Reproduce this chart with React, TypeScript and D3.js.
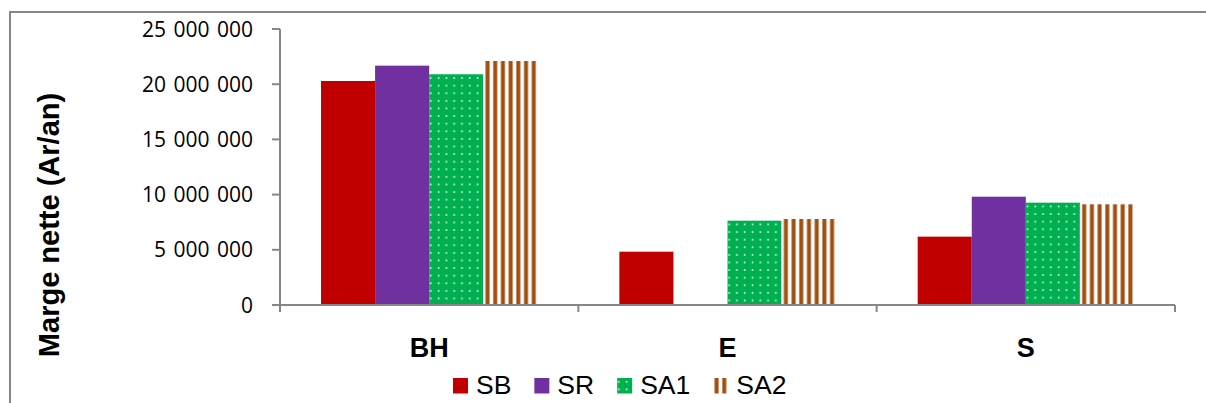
import React, { useEffect, useRef } from "react";
import * as d3 from "d3";

const categories = ["BH", "E", "S"];
const seriesNames = ["SB", "SR", "SA1", "SA2"];
const sbValues = [20290000, 4830000, 6190000];
const srValues: (number | null)[] = [21680000, null, 9810000];
const sa1Values = [20900000, 7640000, 9270000];
const sa2Values = [22100000, 7790000, 9120000];
const yTicks = [0, 5000000, 10000000, 15000000, 20000000, 25000000];
const yTitle = "Marge nette (Ar/an)";

const W = 1206;
const H = 403;

export default function App() {
  const ref = useRef<SVGSVGElement | null>(null);

  useEffect(() => {
    const svg = d3.select(ref.current);
    svg.selectAll("*").remove();

    const seriesValues = [sbValues, srValues, sa1Values, sa2Values];
    const colors: Record<string, string> = {
      SB: "#C00000",
      SR: "#7030A0",
      SA1: "#00B050",
      SA2: "#A14E0E",
    };
    const gray = "#878787";

    const x0 = d3.scaleBand<string>().domain(categories).range([280, 1175]).padding(0);
    const bw = x0.bandwidth();
    const x1 = d3
      .scaleBand<string>()
      .domain(seriesNames)
      .range([bw * 0.1375, bw * 0.8625])
      .padding(0);
    const y = d3.scaleLinear().domain([0, 25000000]).range([305, 29]);

    const locale = d3.formatLocale({
      decimal: ",",
      thousands: " ",
      grouping: [3],
      currency: ["", ""],
    });
    const fmt = locale.format(",");

    const defs = svg.append("defs");

    const makeDots = (id: string, ox: number, oy: number) => {
      const p = defs
        .append("pattern")
        .attr("id", id)
        .attr("patternUnits", "userSpaceOnUse")
        .attr("x", ox)
        .attr("y", oy)
        .attr("width", 7.8)
        .attr("height", 7.6);
      p.append("rect").attr("width", 7.8).attr("height", 7.6).attr("fill", colors.SA1);
      p.append("circle").attr("cx", 1.6).attr("cy", 3.8).attr("r", 0.95).attr("fill", "#d8f5e3");
    };
    const makeStripes = (id: string, ox: number) => {
      const p = defs
        .append("pattern")
        .attr("id", id)
        .attr("patternUnits", "userSpaceOnUse")
        .attr("x", ox)
        .attr("y", 0)
        .attr("width", 7.7)
        .attr("height", 10);
      p.append("rect").attr("width", 7.7).attr("height", 10).attr("fill", "#ffffff");
      p.append("rect").attr("x", 2.3).attr("width", 4).attr("height", 10).attr("fill", colors.SA2);
    };

    // Border
    svg
      .append("path")
      .attr("d", `M10,${H} L10,12 L${W},12`)
      .attr("fill", "none")
      .attr("stroke", gray)
      .attr("stroke-width", 2);

    // Bars
    const barsG = svg.append("g");
    categories.forEach((cat, ci) => {
      seriesNames.forEach((s, si) => {
        const v = seriesValues[si][ci];
        if (v == null || v === 0) return;
        const bx = (x0(cat) as number) + (x1(s) as number);
        const by = y(v);
        let fill = colors[s];
        if (s === "SA1") {
          const id = `dots-${ci}`;
          makeDots(id, bx, by);
          fill = `url(#${id})`;
        } else if (s === "SA2") {
          const id = `stripes-${ci}`;
          makeStripes(id, bx);
          fill = `url(#${id})`;
        }
        barsG
          .append("rect")
          .attr("x", bx)
          .attr("y", by)
          .attr("width", x1.bandwidth())
          .attr("height", y(0) - by)
          .attr("fill", fill);
      });
    });

    // Y axis
    const yAxisG = svg.append("g");
    yAxisG
      .append("line")
      .attr("x1", 280)
      .attr("x2", 280)
      .attr("y1", y(25000000))
      .attr("y2", 312)
      .attr("stroke", gray)
      .attr("stroke-width", 2);
    yTicks.forEach((t) => {
      yAxisG
        .append("line")
        .attr("x1", 272)
        .attr("x2", 280)
        .attr("y1", y(t))
        .attr("y2", y(t))
        .attr("stroke", gray)
        .attr("stroke-width", 2);
      yAxisG
        .append("text")
        .attr("x", 253)
        .attr("y", y(t))
        .attr("dy", "0.36em")
        .attr("text-anchor", "end")
        .attr("font-family", "Open Sans")
        .attr("font-size", 21)
        .attr("word-spacing", 2)
        .attr("fill", "#000")
        .text(fmt(t));
    });

    // X axis
    const xAxisG = svg.append("g");
    xAxisG
      .append("line")
      .attr("x1", 280)
      .attr("x2", 1175)
      .attr("y1", y(0))
      .attr("y2", y(0))
      .attr("stroke", gray)
      .attr("stroke-width", 2);
    categories.forEach((cat) => {
      const end = (x0(cat) as number) + bw;
      xAxisG
        .append("line")
        .attr("x1", end)
        .attr("x2", end)
        .attr("y1", y(0))
        .attr("y2", 312)
        .attr("stroke", gray)
        .attr("stroke-width", 2);
      xAxisG
        .append("text")
        .attr("x", (x0(cat) as number) + bw / 2)
        .attr("y", 357)
        .attr("text-anchor", "middle")
        .attr("font-family", "Liberation Sans")
        .attr("font-weight", "bold")
        .attr("font-size", 27)
        .attr("fill", "#000")
        .text(cat);
    });

    // Y title
    svg
      .append("text")
      .attr("transform", `translate(59,225) rotate(-90)`)
      .attr("text-anchor", "middle")
      .attr("font-family", "Liberation Sans")
      .attr("font-weight", "bold")
      .attr("font-size", 29)
      .attr("fill", "#000")
      .text(yTitle);

    // Legend
    const legendG = svg.append("g");
    let lx = 453;
    seriesNames.forEach((s) => {
      let fill = colors[s];
      const g = legendG.append("g");
      if (s === "SA1") {
        const id = "dots-leg";
        makeDots(id, lx, 378);
        fill = `url(#${id})`;
      } else if (s === "SA2") {
        const id = "stripes-leg";
        makeStripes(id, lx - 1);
        fill = `url(#${id})`;
      }
      g.append("rect")
        .attr("x", lx)
        .attr("y", 378)
        .attr("width", 15)
        .attr("height", 15.5)
        .attr("fill", fill);
      const t = g
        .append("text")
        .attr("x", lx + 23)
        .attr("y", 394)
        .attr("font-family", "Liberation Sans")
        .attr("font-size", 26.5)
        .attr("fill", "#000")
        .text(s);
      const tw = (t.node() as SVGTextElement).getComputedTextLength();
      lx = lx + 23 + tw + 23;
    });
  }, []);

  return (
    <svg
      ref={ref}
      width={W}
      height={H}
      style={{ position: "absolute", left: 0, top: 0, background: "#fff" }}
    />
  );
}
